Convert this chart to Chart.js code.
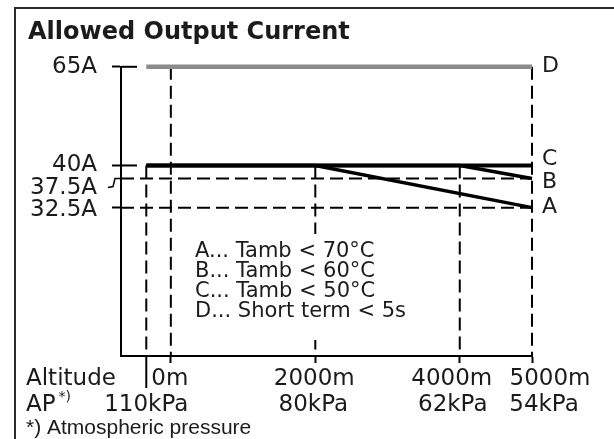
<!DOCTYPE html>
<html>
<head>
<meta charset="utf-8">
<script src="https://cdn.jsdelivr.net/npm/chart.js@4.4.1/dist/chart.umd.min.js"></script>
<style>
  html, body { margin: 0; padding: 0; background: #fff; }
  #wrap { position: relative; width: 614px; height: 439px; overflow: hidden; }
  #wrap canvas { position: absolute; left: 0; top: 0; }
  #frame { position: absolute; left: 14px; top: 7px; width: 700px; height: 500px; border: 2px solid #2b2b2b; }
</style>
</head>
<body>
<div id="wrap">
  <canvas id="myChart" width="614" height="439"></canvas>
  <div id="frame"></div>
</div>
<script>
// axis values (altitude in m, current in A)
var altitudes = [0, 2000, 4000, 5000];
var altitudeLabels = ["0m", "2000m", "4000m", "5000m"];
var pressureAt = [-340, 2000, 4000, 5000];
var pressureLabels = ["110kPa", "80kPa", "62kPa", "54kPa"];
var currentTicks = [65, 40, 37.5, 32.5];
var currentLabels = ["65A", "40A", "37.5A", "32.5A"];

// derating curves
var curveA_x = [-340, 2000, 5000];
var curveA_y = [40, 40, 32.5];
var curveB_x = [-340, 4000, 5000];
var curveB_y = [40, 40, 37.5];
var curveC_x = [-340, 5000];
var curveC_y = [40, 40];
var curveD_x = [-340, 5000];
var curveD_y = [65, 65];

// dashed helper lines
var guideX = [-340, 0, 2000, 4000, 5000];
var guideTop = [40, 65, 40, 40, 65];
var guideY = [37.5, 32.5];

var legendLines = ["A... Tamb < 70°C", "B... Tamb < 60°C", "C... Tamb < 50°C", "D... Short term < 5s"];

var X_MIN = -690, X_MAX = 5000, Y_MIN = 15.66, Y_MAX = 65;
var INK = "#1b1b1b";

function pts(xs, ys) {
  return xs.map(function (x, i) { return { x: x, y: ys[i] }; });
}

var datasets = [
  { data: pts(curveA_x, curveA_y), borderColor: "#000", borderWidth: 3.5 },
  { data: pts(curveB_x, curveB_y), borderColor: "#000", borderWidth: 3.5 },
  { data: pts(curveC_x, curveC_y), borderColor: "#000", borderWidth: 4 },
  { data: pts(curveD_x, curveD_y), borderColor: "#8c8c8c", borderWidth: 4.5 }
];
guideX.forEach(function (gx, i) {
  datasets.push({ data: [{ x: gx, y: guideTop[i] }, { x: gx, y: Y_MIN }], borderColor: "#000", borderWidth: 2, borderDash: [13, 6] });
});
guideY.forEach(function (gy) {
  datasets.push({ data: [{ x: X_MIN, y: gy }, { x: X_MAX, y: gy }], borderColor: "#000", borderWidth: 2, borderDash: [13, 6] });
});
datasets.forEach(function (d) {
  d.type = "line"; d.pointRadius = 0; d.fill = false; d.tension = 0; d.clip = false; d.borderCapStyle = "butt";
});

// labels, legend text and the small extras of the drawing
var schematic = {
  id: "schematic",
  afterDatasetsDraw: function (chart) {
    var ctx = chart.ctx, xs = chart.scales.x, ys = chart.scales.y, area = chart.chartArea;
    ctx.save();
    ctx.strokeStyle = "#000";
    ctx.lineWidth = 2;

    // inner part of the y ticks
    [65, 40].forEach(function (v) {
      var y = ys.getPixelForValue(v);
      ctx.beginPath(); ctx.moveTo(area.left, y); ctx.lineTo(area.left + 16, y); ctx.stroke();
    });
    // leader for 37.5A
    var y375 = ys.getPixelForValue(37.5);
    ctx.lineWidth = 1.5;
    ctx.beginPath();
    ctx.moveTo(area.left - 1, y375);
    ctx.lineTo(area.left - 6, y375);
    ctx.lineTo(area.left - 8, y375 + 8);
    ctx.lineTo(area.left - 13, y375 + 9);
    ctx.stroke();
    ctx.lineWidth = 2;

    // separator under the axis at the first dashed line
    var xs0 = xs.getPixelForValue(pressureAt[0]);
    ctx.beginPath(); ctx.moveTo(xs0, area.bottom); ctx.lineTo(xs0, area.bottom + 32); ctx.stroke();

    ctx.fillStyle = INK;
    ctx.textBaseline = "middle";
    ctx.font = "23px 'DejaVu Sans'";

    // y tick labels
    var yShift = { 65: 0, 40: 0, 37.5: 9, 32.5: 2 };
    ctx.textAlign = "right";
    currentTicks.forEach(function (v, i) {
      ctx.fillText(currentLabels[i], area.left - 24, ys.getPixelForValue(v) + yShift[v]);
    });

    // x tick labels
    var altShift = [-1, -1, -8, 18];
    var presShift = [0, -2, -7, 12];
    ctx.textAlign = "center";
    altitudes.forEach(function (a, i) {
      ctx.fillText(altitudeLabels[i], xs.getPixelForValue(a) + altShift[i], area.bottom + 23);
    });
    pressureAt.forEach(function (a, i) {
      ctx.fillText(pressureLabels[i], xs.getPixelForValue(a) + presShift[i], area.bottom + 49);
    });
    ctx.textAlign = "left";
    ctx.fillText("Altitude", 26, area.bottom + 23);
    ctx.fillText("AP", 26, area.bottom + 49);
    var apW = ctx.measureText("AP").width;
    ctx.font = "14px 'DejaVu Sans'";
    ctx.fillText("*)", 26 + apW + 3, area.bottom + 41);
    ctx.font = "21px 'Liberation Sans'";
    ctx.fillText("*) Atmospheric pressure", 26, area.bottom + 72);

    // curve letters
    ctx.font = "22px 'DejaVu Sans'";
    var ends = [["D", 65, -1], ["C", 40, -6], ["B", 37.5, 4], ["A", 32.5, 0]];
    ends.forEach(function (e) {
      ctx.fillText(e[0], area.right + 10, ys.getPixelForValue(e[1]) + e[2]);
    });

    // legend box over the 2000m line
    ctx.fillStyle = "#fff";
    ctx.fillRect(186, 234, 230, 106);
    ctx.fillStyle = INK;
    ctx.font = "21px 'DejaVu Sans'";
    legendLines.forEach(function (t, i) {
      ctx.fillText(t, 195, 252 + i * 20);
    });
    ctx.restore();
  }
};

Chart.defaults.font.family = "'DejaVu Sans'";

var chart = new Chart("myChart", {
  data: { datasets: datasets },
  options: {
    responsive: false,
    animation: false,
    layout: { padding: { left: 28, right: 82, top: 0, bottom: 0 } },
    plugins: {
      legend: { display: false },
      tooltip: { enabled: false },
      title: {
        display: true,
        text: "Allowed Output Current",
        align: "start",
        color: INK,
        font: { size: 24, weight: "bold" },
        padding: { top: 18, bottom: 20 }
      }
    },
    scales: {
      x: {
        type: "linear",
        min: X_MIN, max: X_MAX, bounds: "data",
        afterBuildTicks: function (s) { s.ticks = altitudes.map(function (v) { return { value: v }; }); },
        afterFit: function (s) { s.height = 83; },
        ticks: { display: false },
        grid: { drawOnChartArea: false, tickLength: 7, tickColor: "#000", tickWidth: 2 },
        border: { color: "#000", width: 2 }
      },
      y: {
        type: "logarithmic",
        min: Y_MIN, max: Y_MAX, bounds: "data",
        afterBuildTicks: function (s) { s.ticks = currentTicks.map(function (v) { return { value: v }; }); },
        afterFit: function (s) { s.width = 93; },
        ticks: { display: false },
        grid: {
          drawOnChartArea: false, tickLength: 9, tickWidth: 2,
          tickColor: function (c) { return c.tick && c.tick.value === 37.5 ? "rgba(0,0,0,0)" : "#000"; }
        },
        border: { color: "#000", width: 2 }
      }
    }
  },
  plugins: [schematic]
});
</script>
</body>
</html>
